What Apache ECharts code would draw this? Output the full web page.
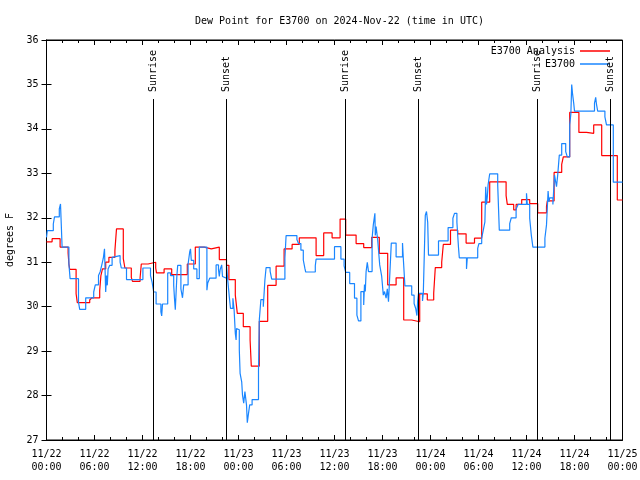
<!DOCTYPE html>
<html>
<head>
<meta charset="utf-8">
<script src="https://cdn.jsdelivr.net/npm/echarts@6/dist/echarts.min.js"></script>
<style>
html,body{margin:0;padding:0;background:#fff;}
#chart{width:640px;height:480px;}
</style>
</head>
<body>
<div id="chart"></div>
<script>
// Hours since 2024-11-22 00:00 UTC
const analysisHours = [0.0,0.7,1.7,2.7,2.8,2.9,3.7,3.85,5.4,5.65,6.65,6.8,7.0,7.4,7.8,8.55,8.75,9.6,9.8,10.6,10.75,11.7,11.85,12.7,13.65,13.75,14.7,15.65,17.6,18.6,19.7,20.6,21.6,22.5,22.8,23.6,23.85,24.6,25.45,25.6,26.6,27.65,28.7,29.7,30.7,31.6,33.7,34.65,35.7,36.7,37.4,38.7,39.65,40.65,41.6,42.65,43.7,44.65,45.65,46.65,47.6,48.4,48.6,49.4,49.6,50.5,51.4,52.45,53.5,54.4,55.4,57.45,57.6,58.4,58.7,59.4,60.4,61.4,62.5,62.6,63.45,64.4,64.6,65.4,66.55,67.5,68.4,69.4,71.35,72.0];
const analysisValues = [31.46,31.53,31.34,31.21,30.96,30.84,30.29,30.09,30.15,30.2,30.36,30.7,30.85,31.0,31.11,31.26,31.75,31.08,30.87,30.66,30.57,30.65,30.96,31.0,30.87,30.76,30.85,30.72,30.96,31.34,31.3,31.34,31.06,30.93,30.61,30.26,29.85,29.55,29.25,28.66,29.67,30.48,30.91,31.3,31.4,31.55,31.15,31.66,31.55,31.97,31.61,31.42,31.33,31.56,31.2,30.49,30.65,29.7,29.66,30.29,30.15,30.3,30.88,31.0,31.4,31.72,31.64,31.43,31.54,32.35,32.81,32.5,32.3,32.18,32.3,32.41,32.32,32.11,32.25,32.38,33.02,33.2,33.37,34.37,33.92,33.9,34.09,33.4,32.4,32.4];

const obsHours = [0.0,0.1,0.85,1.0,1.6,1.75,1.85,1.95,2.8,2.95,4.0,4.15,4.9,5.9,6.1,6.5,6.7,6.9,7.1,7.25,7.4,7.5,7.6,7.7,7.9,8.2,8.35,9.2,9.35,10.0,12.05,13.0,13.2,13.4,13.7,14.3,14.4,14.5,15.15,15.5,15.9,16.0,16.1,16.3,16.4,16.8,17.0,17.15,17.7,17.9,18.0,18.1,18.4,18.8,19.1,20.05,20.15,20.4,21.2,21.5,21.6,21.7,21.9,22.0,22.1,22.5,22.6,22.85,23.0,23.3,23.45,23.6,23.7,23.75,23.95,24.1,24.2,24.4,24.5,24.65,24.8,25.0,25.1,25.25,25.4,25.7,26.5,26.6,26.8,27.1,27.3,27.45,27.95,28.15,29.8,29.95,31.3,31.5,31.8,32.1,32.3,32.4,33.6,33.7,36.0,36.8,37.2,37.4,37.9,38.5,38.8,39.0,39.3,39.65,39.75,39.85,39.95,40.1,40.25,40.7,40.85,41.05,41.1,41.2,41.4,41.65,41.9,42.1,42.25,42.45,42.6,42.75,42.85,43.1,43.7,44.5,44.6,44.8,45.65,45.95,46.15,46.3,46.4,46.5,47.0,47.1,47.35,47.5,47.65,47.75,49.0,50.2,50.8,51.0,51.3,51.5,51.6,52.5,52.6,53.9,54.05,54.4,54.6,54.8,54.9,55.0,55.1,55.2,55.4,56.4,56.6,57.9,58.1,58.7,58.95,60.0,60.1,60.4,60.6,60.8,62.3,62.5,62.7,62.8,62.9,63.3,63.5,63.75,63.9,64.1,64.4,64.9,65.1,65.4,65.55,65.65,65.75,65.9,66.0,68.5,68.65,68.75,68.9,69.8,70.0,70.85,72.0];
const obsValues = [31.56,31.71,31.86,32.02,32.2,32.31,31.83,31.34,30.96,30.63,30.1,29.94,30.2,30.33,30.49,30.7,30.78,30.93,31.09,31.3,30.33,30.7,30.48,30.85,30.93,31.11,31.15,31.0,30.87,30.61,30.87,30.7,30.55,30.33,30.06,29.88,29.79,30.06,30.76,30.7,30.48,30.18,29.93,30.7,30.93,30.4,30.2,30.49,30.96,31.23,31.3,31.04,30.85,30.63,31.34,30.37,30.53,30.64,30.94,30.83,30.68,30.83,30.94,30.68,30.64,30.94,30.71,30.22,29.96,30.19,29.93,29.4,29.25,29.51,29.48,29.03,28.5,28.31,28.01,27.83,28.09,27.79,27.39,27.6,27.79,27.91,28.54,29.7,30.16,30.0,30.6,30.88,30.8,30.62,31.09,31.6,31.51,31.42,31.27,31.05,30.86,30.78,30.92,31.07,31.35,31.07,30.92,30.77,30.52,30.19,29.81,29.68,30.34,30.04,30.5,30.34,30.79,31.0,30.79,31.54,31.84,32.1,31.6,31.8,31.5,30.94,30.68,30.26,30.34,30.19,30.4,30.11,30.49,31.43,31.12,31.43,31.09,30.47,30.26,30.07,29.96,29.8,30.13,30.3,30.13,30.3,32.06,32.14,31.9,31.16,31.48,31.78,31.99,32.1,31.9,31.33,31.1,30.85,31.1,31.31,31.42,31.55,31.72,31.91,32.7,32.3,32.47,32.74,32.99,32.74,31.72,31.87,32.0,32.2,32.3,32.55,32.3,31.99,31.61,31.34,31.54,31.84,32.6,32.36,32.45,32.3,32.96,32.7,32.96,33.41,33.67,33.49,33.37,34.09,34.35,35.0,34.8,34.58,34.4,34.58,34.71,34.55,34.4,34.27,34.09,32.8,32.8];

const sunHours = [13.35, 22.48, 37.35, 46.48, 61.35, 70.4];
const sunLabels = ['Sunrise','Sunset','Sunrise','Sunset','Sunrise','Sunset'];

const xTickLabels = ['11/22\n00:00','11/22\n06:00','11/22\n12:00','11/22\n18:00','11/23\n00:00','11/23\n06:00','11/23\n12:00','11/23\n18:00','11/24\n00:00','11/24\n06:00','11/24\n12:00','11/24\n18:00','11/25\n00:00'];
const yTickLabels = ['27','28','29','30','31','32','33','34','35','36'];

const FONT = 'DejaVu Sans Mono';
const chart = echarts.init(document.getElementById('chart'), null, {renderer:'canvas'});

function pairs(xs, ys){ return xs.map((x,i)=>[x, ys[i]]); }

const tickCommon = {show:true, inside:true, length:5, lineStyle:{color:'#000', width:1}};
const minorCommon = {show:true, splitNumber:3, length:3, lineStyle:{color:'#000', width:1}};

chart.setOption({
  animation:false,
  backgroundColor:'#fff',
  title:{
    text:'Dew Point for E3700 on 2024-Nov-22 (time in UTC)',
    left:334.5, top:11, textAlign:'center',
    textStyle:{fontFamily:FONT, fontSize:10, fontWeight:'normal', color:'#000'}
  },
  legend:{
    orient:'vertical', right:25, top:40, align:'right',
    icon:'rect', itemWidth:30, itemHeight:1.5, itemGap:1,
    textStyle:{fontFamily:FONT, fontSize:10, color:'#000', lineHeight:12},
    data:['E3700 Analysis','E3700']
  },
  grid:{left:46.5, right:17.5, top:40, bottom:40, show:true, borderColor:'#000', borderWidth:1, containLabel:false, outerBoundsMode:'none'},
  xAxis:[{
    type:'value', min:0, max:72, interval:6, position:'bottom',
    axisLine:{show:true, lineStyle:{color:'#000'}},
    axisTick:tickCommon, minorTick:minorCommon,
    splitLine:{show:false},
    axisLabel:{fontFamily:FONT, fontSize:10, color:'#000', margin:8, lineHeight:13,
      formatter:(v)=>xTickLabels[Math.round(v/6)]}
  },{
    type:'value', min:0, max:72, interval:6, position:'top',
    axisLine:{show:true, lineStyle:{color:'#000'}},
    axisTick:tickCommon, minorTick:minorCommon,
    splitLine:{show:false}, axisLabel:{show:false}
  }],
  yAxis:[{
    type:'value', min:27, max:36, interval:1, position:'left',
    name:'degrees F', nameLocation:'middle', nameGap:30, nameRotate:90,
    nameTextStyle:{fontFamily:FONT, fontSize:10, color:'#000'},
    axisLine:{show:true, lineStyle:{color:'#000'}},
    axisTick:tickCommon, splitLine:{show:false},
    axisLabel:{fontFamily:FONT, fontSize:10, color:'#000', margin:8,
      formatter:(v)=>yTickLabels[Math.round(v-27)]}
  },{
    type:'value', min:27, max:36, interval:1, position:'right',
    axisLine:{show:true, lineStyle:{color:'#000'}},
    axisTick:tickCommon, splitLine:{show:false}, axisLabel:{show:false}
  }],
  series:[{
    name:'E3700 Analysis', type:'line', step:'end', symbol:'none',
    xAxisIndex:0, yAxisIndex:0, clip:true, z:3,
    lineStyle:{color:'#ff0000', width:1.2}, itemStyle:{color:'#ff0000'},
    data:pairs(analysisHours, analysisValues)
  },{
    name:'E3700', type:'line', step:'end', symbol:'none',
    xAxisIndex:0, yAxisIndex:0, clip:true, z:4,
    lineStyle:{color:'#1a86ff', width:1.2}, itemStyle:{color:'#1a86ff'},
    data:pairs(obsHours, obsValues)
  },{
    name:'sun', type:'custom', xAxisIndex:0, yAxisIndex:0, z:5,
    data:sunHours.map((h,i)=>[h,i]),
    renderItem:(params, api)=>{
      const h = api.value(0);
      const idx = api.value(1);
      const b = api.coord([h, 27]);
      const t = api.coord([h, 36]);
      const x = Math.round(b[0]) + 0.5;
      return {type:'group', children:[
        {type:'line', shape:{x1:x, y1:t[1]+59, x2:x, y2:b[1]}, style:{stroke:'#000', lineWidth:1}},
        {type:'text', x:x, y:t[1]+52, rotation:Math.PI/2,
          style:{text:sunLabels[idx], fill:'#000', font:'10px "DejaVu Sans Mono"', align:'left', verticalAlign:'middle'}}
      ]};
    }
  }]
});
</script>
</body>
</html>
